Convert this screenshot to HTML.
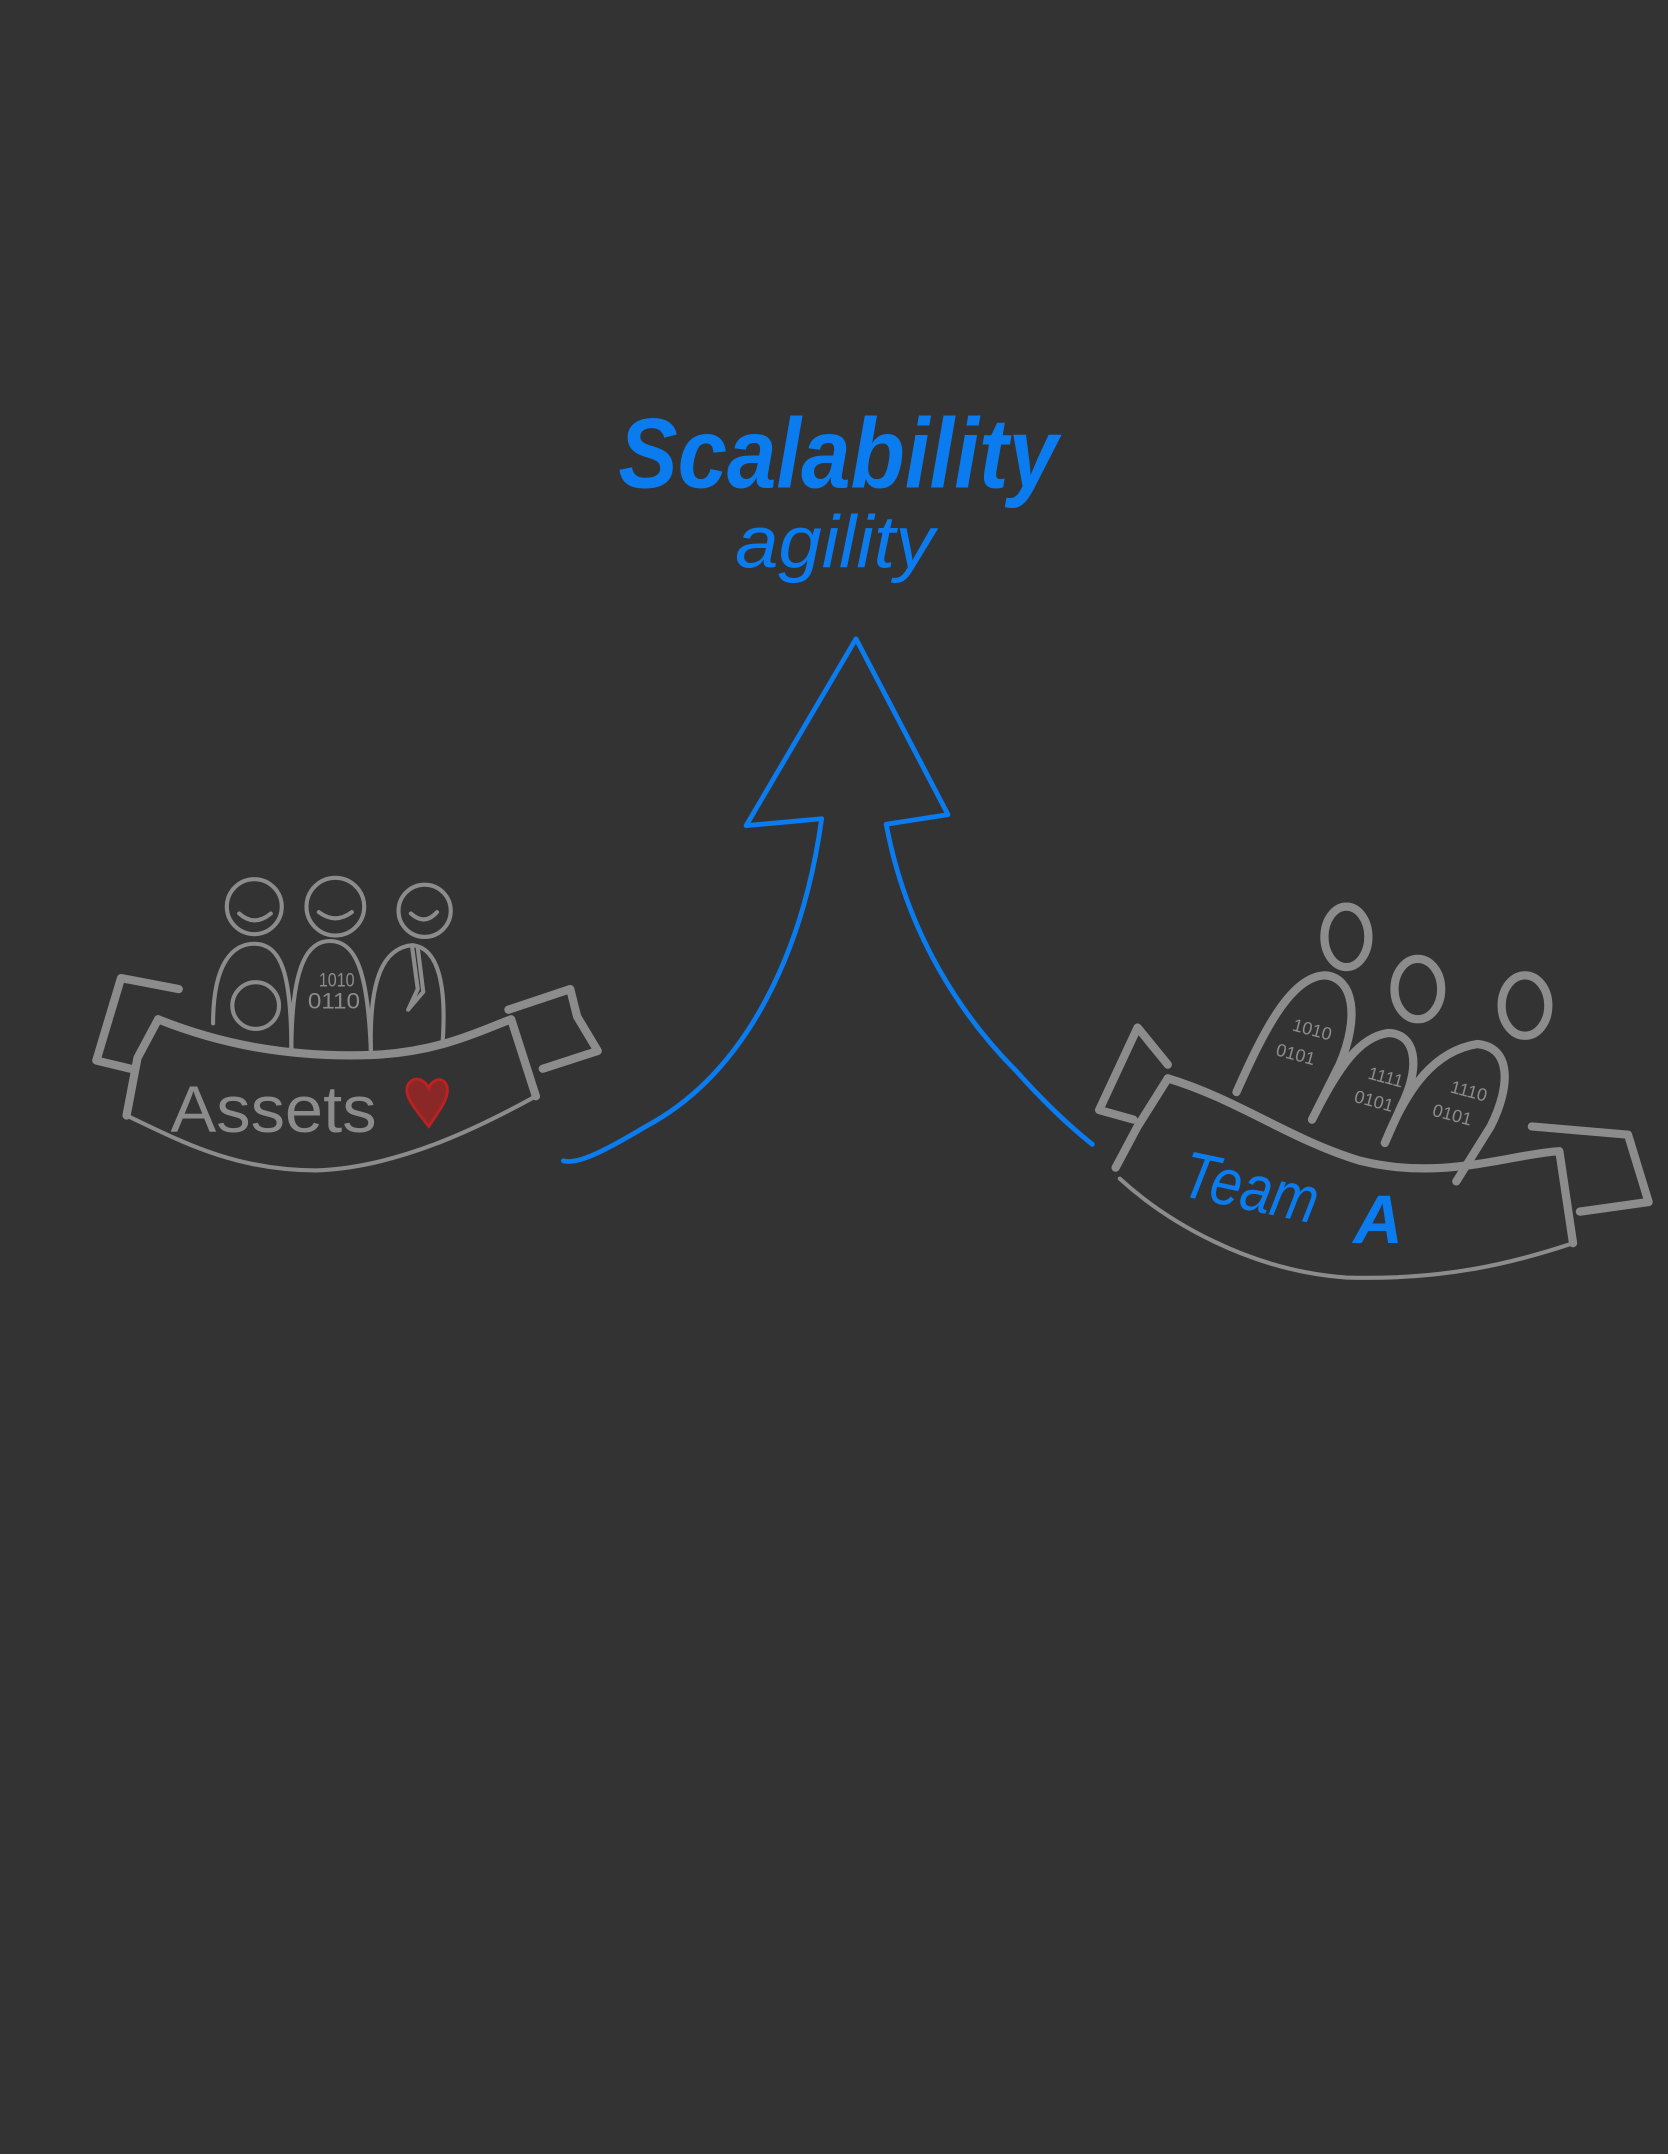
<!DOCTYPE html>
<html><head><meta charset="utf-8"><style>
html,body{margin:0;padding:0;background:#333333;}
svg{display:block}
text{font-family:"Liberation Sans",sans-serif}
</style></head><body>
<svg width="1668" height="2154" viewBox="0 0 1214 1568" xmlns="http://www.w3.org/2000/svg">
<rect width="1214" height="1568" fill="#333333"/>
<!-- title -->
<text x="450" y="355" font-size="72" fill="#0a7cf0" font-style="italic" font-weight="bold" textLength="320" lengthAdjust="spacingAndGlyphs">Scalability</text>
<text x="535" y="413" font-size="54" fill="#0a7cf0" font-style="italic" textLength="145" lengthAdjust="spacingAndGlyphs">agility</text>
<!-- arrow -->
<g fill="none" stroke="#0a7cf0" stroke-width="3.5" stroke-linecap="round" stroke-linejoin="round">
<path d="M598,596 L543,601 L623,465 L690,593 L645,600"/>
<path d="M598,596 C585,690 545,780 470,820 C440,838 420,848 410,845"/>
<path d="M645,600 C660,680 700,740 740,780 C765,808 785,825 795,833"/>
</g>
<!-- left group -->
<g fill="none" stroke="#8c8c8c" stroke-linecap="round" stroke-linejoin="round">
<g stroke-width="3">
<circle cx="185" cy="660" r="20"/><circle cx="244" cy="660" r="21"/><circle cx="309" cy="663" r="19"/>
<path d="M174,665 Q185,675 197,665"/><path d="M232,664 Q244,673 256,664"/><path d="M299,665 Q309,674 318,664"/>
<path d="M155,745 C155,700 170,687 185,687 C205,687 212,710 212,765"/>
<path d="M212,765 C212,700 225,685 240,685 C260,685 268,710 270,768"/>
<path d="M270,768 C268,710 280,690 300,688 C320,690 325,720 322,760"/>
<circle cx="186" cy="732" r="17"/>
<path d="M300,690 L304,720 L297,735 L308,722 L304,690"/>
</g>
<g stroke-width="6">
<path d="M130,720 L88,712 L70,772 L95,778"/>
<path d="M370,735 L415,720 L420,740 L435,765 L395,778"/>
<path d="M115,742 C160,760 210,770 270,768 C320,766 350,750 372,742 L390,798"/>
<path d="M115,742 L100,770 L92,812"/>
<path d="M390,798 C350,820 290,850 230,852 C170,852 130,830 92,812" stroke-width="3"/>
</g>
</g>
<text x="232" y="718" font-size="14" fill="#8c8c8c" textLength="26" lengthAdjust="spacingAndGlyphs">1010</text>
<text x="224" y="734" font-size="16" fill="#8c8c8c" textLength="38" lengthAdjust="spacingAndGlyphs">0110</text>
<text x="124" y="824" font-size="48" fill="#8c8c8c" textLength="150" lengthAdjust="spacingAndGlyphs">Assets</text>
<path d="M312,820 C300,805 292,795 298,788 C304,782 310,788 312,792 C314,786 322,783 325,790 C328,798 320,808 312,820 Z" fill="#8a2828" stroke="#c02020" stroke-width="2"/>
<!-- right group -->
<g fill="none" stroke="#8c8c8c" stroke-linecap="round" stroke-linejoin="round" stroke-width="6">
<ellipse cx="980" cy="682" rx="16" ry="22"/>
<ellipse cx="1032" cy="720" rx="17" ry="22"/>
<ellipse cx="1110" cy="732" rx="17" ry="22"/>
<path d="M900,795 C920,750 940,710 965,710 C985,712 990,740 975,775 L955,815"/>
<path d="M955,815 C975,775 990,755 1010,752 C1030,752 1035,775 1020,805 L1008,832"/>
<path d="M1008,832 C1025,790 1045,765 1075,760 C1100,762 1100,790 1085,820 L1060,860"/>
<path d="M850,775 L828,748 L800,808 L825,815"/>
<path d="M1115,820 L1185,826 L1200,875 L1150,882"/>
<path d="M850,785 C900,800 940,830 990,845 C1050,860 1100,840 1135,838 L1145,905"/>
<path d="M850,785 L828,820 L812,850"/>
<path d="M1145,905 C1100,920 1050,932 980,930 C910,925 850,890 815,858" stroke-width="3"/>
</g>
<g fill="#8c8c8c" font-size="13">
<text x="940" y="750" transform="rotate(15 940 750)">1010</text>
<text x="928" y="768" transform="rotate(15 928 768)">0101</text>
<text x="995" y="785" transform="rotate(15 995 785)">1111</text>
<text x="985" y="802" transform="rotate(15 985 802)">0101</text>
<text x="1055" y="795" transform="rotate(15 1055 795)">1110</text>
<text x="1042" y="812" transform="rotate(15 1042 812)">0101</text>
</g>
<text x="858" y="870" font-size="48" fill="#0a7cf0" font-style="italic" transform="rotate(12 858 870)" textLength="100" lengthAdjust="spacingAndGlyphs">Team</text>
<text x="985" y="905" font-size="50" fill="#0a7cf0" font-style="italic" font-weight="bold">A</text>
</svg>
</body></html>
